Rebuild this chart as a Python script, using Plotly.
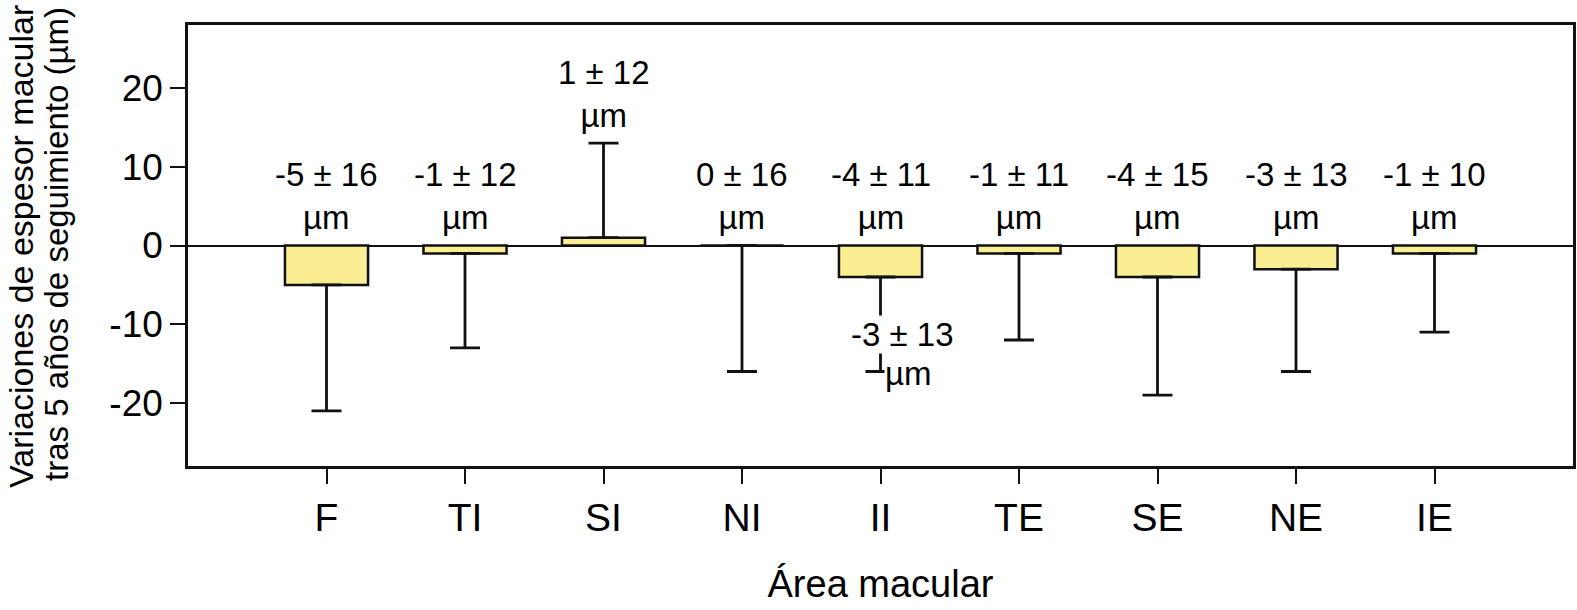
import plotly.graph_objects as go

areas = ["F", "TI", "SI", "NI", "II", "TE", "SE", "NE", "IE"]
mean_change = [-5, -1, 1, 0, -4, -1, -4, -3, -1]
sd_change = [16, 12, 12, 16, 11, 11, 15, 13, 10]
errbar_len = [16, 12, 12, 16, 12, 11, 15, 13, 10]
extra_label = "-3 ± 13"
y_ticks = [-20, -10, 0, 10, 20]
y_ticktext = ["-20", "-10", "0", "10", "20"]

FONT = "Liberation Sans, Arial, Helvetica, sans-serif"
xs = list(range(len(areas)))
err_plus = [e if v > 0 else 0 for v, e in zip(mean_change, errbar_len)]
err_minus = [e if v <= 0 else 0 for v, e in zip(mean_change, errbar_len)]

fig = go.Figure()
fig.add_trace(go.Bar(
    x=xs, y=mean_change, width=0.6,
    marker=dict(color="#FAEE93", line=dict(color="#111111", width=2.5)),
    error_y=dict(type="data", symmetric=False, array=err_plus, arrayminus=err_minus,
                 color="#111111", thickness=2.8, width=15),
    showlegend=False,
))

annotations = []
for x, v, s, ep in zip(xs, mean_change, sd_change, err_plus):
    base = (v + ep) if v > 0 else 0
    annotations.append(dict(
        x=x, y=base + 6.3, xref="x", yref="y",
        text=f"{v} ± {s}<br>µm", showarrow=False,
        font=dict(family=FONT, size=33, color="black"),
        yanchor="middle", xanchor="center", align="center",
    ))
# stray label under II
annotations.append(dict(x=4.16, y=-11.3, xref="x", yref="y", text=extra_label,
                        showarrow=False, bgcolor="white", borderpad=0,
                        font=dict(family=FONT, size=33, color="black"),
                        yanchor="middle", xanchor="center"))
annotations.append(dict(x=4.2, y=-16.3, xref="x", yref="y", text="µm",
                        showarrow=False, bgcolor="white", borderpad=0,
                        font=dict(family=FONT, size=33, color="black"),
                        yanchor="middle", xanchor="center"))
# y axis title (two lines)
annotations.append(dict(x=-0.1205, y=0.497, xref="paper", yref="paper",
                        text="Variaciones de espesor macular",
                        textangle=-90, showarrow=False,
                        font=dict(family=FONT, size=34, color="black"),
                        xanchor="center", yanchor="middle"))
annotations.append(dict(x=-0.0955, y=0.503, xref="paper", yref="paper",
                        text="tras 5 años de seguimiento (µm)",
                        textangle=-90, showarrow=False,
                        font=dict(family=FONT, size=33, color="black"),
                        xanchor="center", yanchor="middle"))

fig.update_layout(
    width=1577, height=610,
    margin=dict(l=188, r=4, t=25, b=144, autoexpand=False),
    plot_bgcolor="white", paper_bgcolor="white",
    font=dict(family=FONT, color="black"),
    annotations=annotations,
)
fig.update_xaxes(
    range=[-1, 9], tickvals=xs, ticktext=areas, automargin=False,
    showline=True, linecolor="#111111", linewidth=2.5, mirror=True,
    ticks="outside", ticklen=15, tickwidth=2.2, tickcolor="#111111",
    tickfont=dict(family=FONT, size=39, color="black"),
    showgrid=False, zeroline=False,
    title=dict(text="Área macular", font=dict(family=FONT, size=38, color="black"), standoff=33),
)
fig.update_yaxes(
    range=[-28.0, 28.0], tickvals=y_ticks, ticktext=y_ticktext, automargin=False,
    showline=True, linecolor="#111111", linewidth=2.5, mirror=True,
    ticks="outside", ticklen=15, tickwidth=2.2, tickcolor="#111111",
    tickfont=dict(family=FONT, size=37, color="black"),
    showgrid=False, zeroline=True, zerolinecolor="#111111", zerolinewidth=2.2,
)

fig.write_html(
    "out.html",
    config={"displayModeBar": False},
    post_script="document.body.style.margin='0';document.body.style.padding='0';"
                "document.documentElement.style.overflow='hidden';",
)
